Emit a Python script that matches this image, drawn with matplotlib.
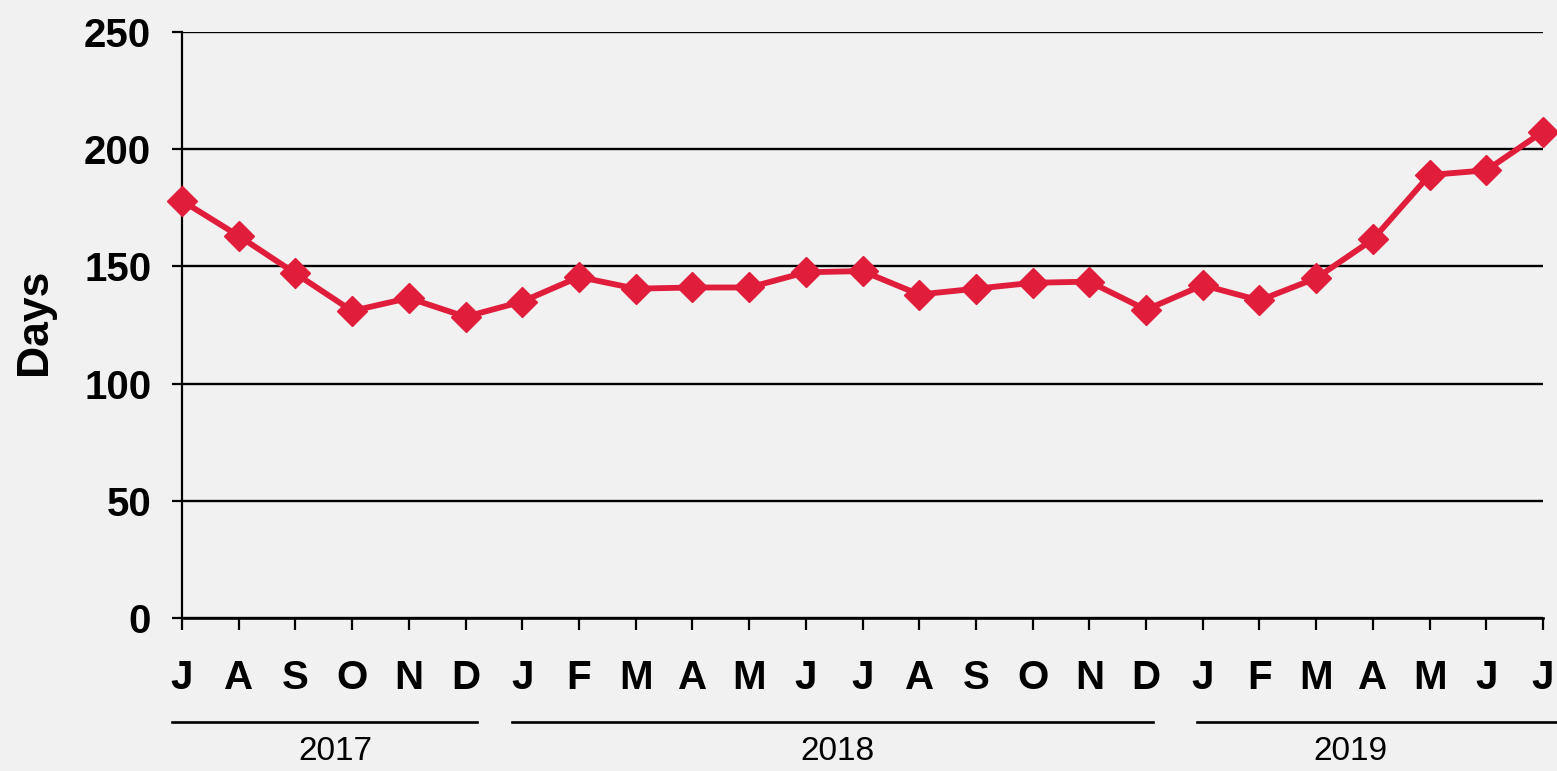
import matplotlib
matplotlib.use("Agg")
import matplotlib.pyplot as plt
from matplotlib.lines import Line2D

months = ["J", "A", "S", "O", "N", "D",
          "J", "F", "M", "A", "M", "J", "J", "A", "S", "O", "N", "D",
          "J", "F", "M", "A", "M", "J", "J"]
days = [178, 163, 147, 131, 136.5, 128.5,
        135, 145.5, 140.5, 141, 141, 147.5, 148, 138, 140.5, 143, 143.5, 131.5,
        142, 135.5, 145, 161.5, 189, 191, 207.5]
years = ["2017", "2018", "2019"]
year_spans = [(-0.18, 5.2), (5.82, 17.12), (17.9, 24.25)]
year_label_x = [2.7, 11.55, 20.6]
yticks = [0, 50, 100, 150, 200, 250]

bg = "#f1f1f1"
fig = plt.figure(figsize=(15.57, 7.71), dpi=100, facecolor=bg)
ax = fig.add_axes([182/1557, 1-618/771, (1543-182)/1557, (618-32)/771])
ax.set_facecolor(bg)

x = list(range(len(days)))
ax.plot(x, days, color="#e01e3c", lw=4.2, marker="D", ms=15.5,
        markeredgecolor="#e01e3c", clip_on=False, zorder=5)

ax.set_xlim(0, len(days)-1)
ax.set_ylim(0, 250)
ax.set_yticks(yticks)
ax.set_yticklabels([str(v) for v in yticks], fontsize=29, fontweight="bold",
                   family="Liberation Sans")
ax.set_xticks(x)
ax.set_xticklabels(months, fontsize=29, fontweight="bold", family="Liberation Sans")
ax.tick_params(axis="y", length=7.2, width=1.6, pad=15, color="black")
ax.tick_params(axis="x", length=8.6, width=1.6, pad=21, direction="out", color="black")
ax.yaxis.grid(True, color="black", lw=1.7)
ax.set_axisbelow(True)
for s in ["top", "right"]:
    ax.spines[s].set_visible(False)
ax.spines["left"].set_linewidth(1.6)
ax.spines["bottom"].set_linewidth(1.9)

fig.text(35/1557, 1-322/771, "Days", rotation=90, fontsize=32, fontweight="bold",
         family="Liberation Sans", ha="center", va="center")

trans = matplotlib.transforms.blended_transform_factory(ax.transData, fig.transFigure)
for (x0, x1), yl, lx in zip(year_spans, years, year_label_x):
    fig.add_artist(Line2D([x0, x1], [1-722/771, 1-722/771], transform=trans,
                          color="black", lw=1.9, clip_on=False))
    fig.text(lx, 1-752/771, yl, transform=trans, fontsize=24, ha="center",
             va="center", family="Liberation Sans")

fig.savefig("out.png", dpi=100, facecolor=bg)
